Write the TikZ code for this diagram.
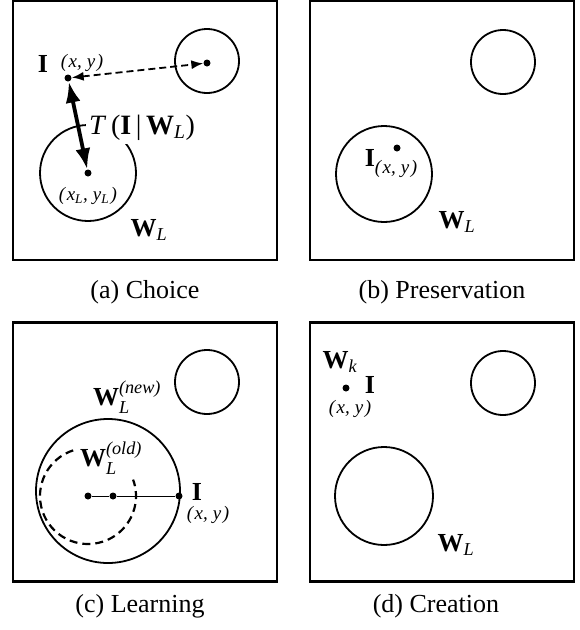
\documentclass[tikz,border=0pt]{standalone}
\usepackage{amsmath}
\usepackage{fontspec}
\setmainfont{Liberation Serif}
\usetikzlibrary{arrows.meta}
\newcommand{\xy}{({\kern1.5pt}x,\kern5pt y{\kern1.5pt})}
\tikzset{
    panel/.style={draw, line width=2.4pt, minimum width=264pt, minimum height=259pt}, % the four frames
    region/.style={circle, draw, line width=1.8pt, inner sep=0pt},
    pt/.style={circle, fill, inner sep=0pt, minimum size=7pt},
    lbl/.style={inner sep=0pt, font=\fontsize{26}{29}\selectfont},
    crd/.style={inner sep=0pt, font=\fontsize{19}{21}\selectfont\itshape},
    caption/.style={anchor=base, inner sep=0pt, font=\fontsize{26}{30}\selectfont}
}

\begin{document}
\begin{tikzpicture}[x=1pt, y=-1pt]
        \useasboundingbox (0,0) rectangle (580,630);

        % (a) choice
        \node[panel] (boxa) at (145,130.5) {};
        \node[region, minimum size=64pt] (ra) at (207,61) {};
        \node[pt] (da) at (207,63) {};
        \node[region, minimum size=96pt] (wa) at (88,173) {};
        \node[pt] (ca) at (88,173) {};
        \node[pt] (ia) at (68,78) {};
        \node[lbl, fill=white, inner sep=3pt, font=\fontsize{28}{30}\selectfont] (ta) at (142,128)
            {\textit{T}\,(\textbf{I}\,|\,\textbf{W}$_{\textit{L}}$)};
        \draw[dash pattern=on 7pt off 4pt, line width=1.8pt, {Latex[length=12pt,width=9pt]}-{Latex[length=12pt,width=9pt]}] (ia) -- (da);
        \draw[line width=3.8pt, {Latex[length=21pt,width=15pt]}-{Latex[length=21pt,width=15pt]}] (ia) -- (ca);
        \node[lbl] (ila) at (43,64) {\textbf{I}};
        \node[crd] (xya) at (82,63) {\xy};
        \node[crd] (xla) at (88,196) {({\kern1.5pt}x$_{\textit{L}}$,\kern5pt y$_{\textit{L}}${\kern1.5pt})};
        \node[lbl] (wla) at (149,230) {\textbf{W}$_{\textit{L}}$};
        \node[caption] (capa) at (145,298) {(a) Choice};

        % (b) preservation
        \node[panel] (boxb) at (442,130.5) {};
        \node[region, minimum size=64pt] (rb) at (503,62) {};
        \node[region, minimum size=96pt] (wb) at (384,174) {};
        \node[pt] (ib) at (397,148) {};
        \node[lbl] (ilb) at (391,164) {\textbf{I}\raisebox{-7pt}{\fontsize{19}{21}\selectfont\itshape\xy}};
        \node[lbl] (wlb) at (457,222) {\textbf{W}$_{\textit{L}}$};
        \node[caption] (capb) at (442,298) {(b) Preservation};

        % (c) learning
        \node[panel] (boxc) at (145,452) {};
        \node[region, minimum size=64pt] (rc) at (207,382) {};
        \node[region, minimum size=144pt] (wnew) at (108,491) {};
        \node[pt] (oc) at (88,496) {};
        \node[pt] (mc) at (113,496) {};
        \node[pt] (ic) at (179,496) {};
        \draw[line width=2.2pt, dash pattern=on 8pt off 5pt] (oc) ++(-108:48) arc[start angle=-108, end angle=-380, radius=48];
        \draw[line width=1pt] (oc) -- (mc) -- (ic);
        \node[lbl] (wnl) at (127,397) {\textbf{W}$_{\textit{L}}^{\textit{(new)}}$};
        \node[lbl] (wol) at (111,458) {\textbf{W}$_{\textit{L}}^{\textit{(old)}}$};
        \node[lbl] (ilc) at (197,492) {\textbf{I}};
        \node[crd] (xyc) at (208,515) {\xy};
        \node[caption] (capc) at (140,612) {(c) Learning};

        % (d) creation
        \node[panel] (boxd) at (442,452) {};
        \node[region, minimum size=64pt] (rd) at (503,383) {};
        \node[region, minimum size=98pt] (wd) at (384,496) {};
        \node[pt] (id) at (346,388) {};
        \node[lbl] (wkd) at (340,362) {\textbf{W}$_{\textit{k}}$};
        \node[lbl] (ild) at (370,385) {\textbf{I}};
        \node[crd] (xyd) at (350,409) {\xy};
        \node[lbl] (wld) at (456,545) {\textbf{W}$_{\textit{L}}$};
        \node[caption] (capd) at (436,612) {(d) Creation};
    \end{tikzpicture}
\end{document}
